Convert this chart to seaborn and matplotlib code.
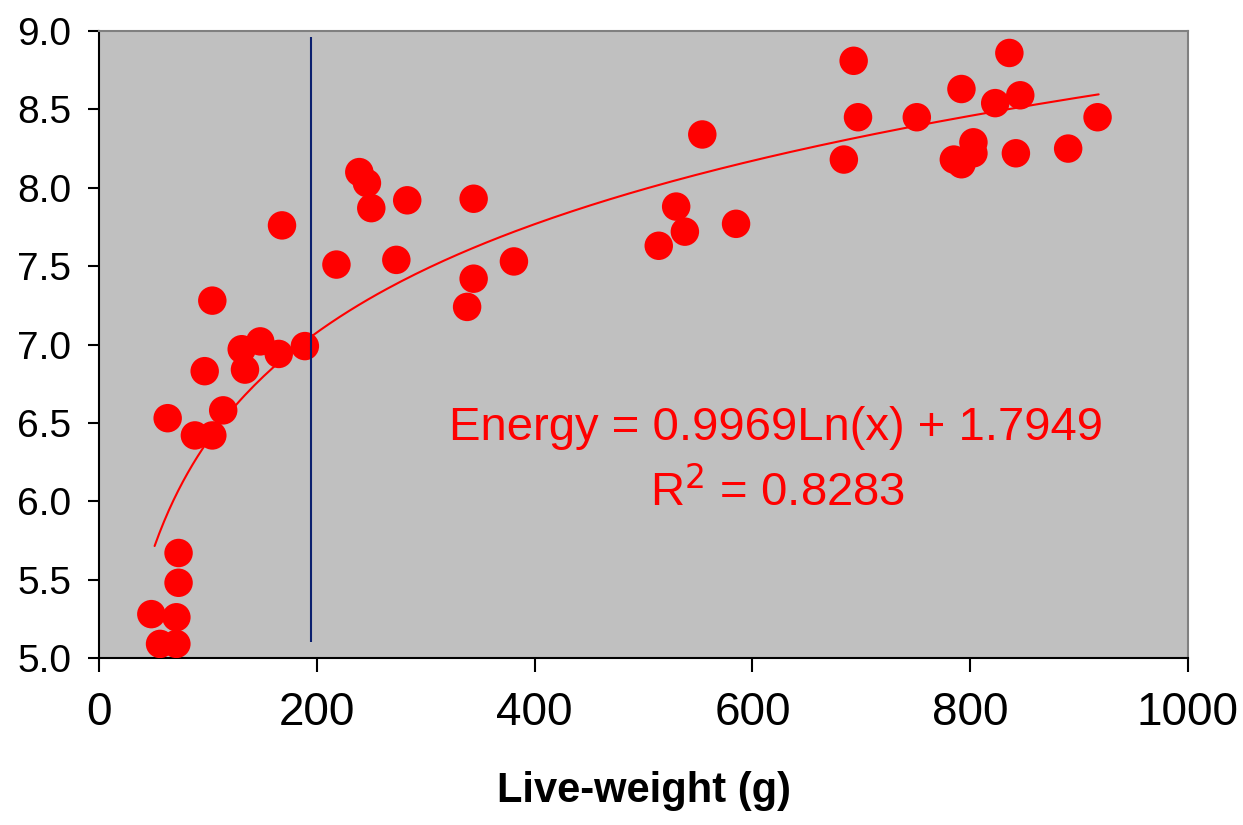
import numpy as np
import pandas as pd
import matplotlib
matplotlib.use("Agg")
import matplotlib.pyplot as plt
import seaborn as sns

# live-weight (g) and energy values
weight = [56, 71, 71, 48, 73, 73, 63, 88, 104, 114, 97, 134, 131, 148, 165,
          189, 104, 168, 218, 239, 246, 250, 273, 283, 338, 344, 344, 381,
          514, 530, 538, 554, 585, 684, 693, 697, 751, 785, 792, 792, 803,
          803, 823, 836, 842, 846, 890, 917]
energy = [5.09, 5.09, 5.26, 5.28, 5.48, 5.67, 6.53, 6.42, 6.42, 6.58, 6.83,
          6.84, 6.97, 7.02, 6.94, 6.99, 7.28, 7.76, 7.51, 8.10, 8.03, 7.87,
          7.54, 7.92, 7.24, 7.42, 7.93, 7.53, 7.63, 7.88, 7.72, 8.34, 7.77,
          8.18, 8.81, 8.45, 8.45, 8.18, 8.15, 8.63, 8.22, 8.29, 8.54, 8.86,
          8.22, 8.59, 8.25, 8.45]

# Excel log trendline as printed on the chart
slope, intercept = 0.9969, 1.7949
r2 = 0.8283
fit_x = np.linspace(51, 918, 200)
fit_y = slope * np.log(fit_x) + intercept

cutoff = 195

df = pd.DataFrame({"weight": weight, "energy": energy})

sns.set_style("ticks")
plt.rcParams["font.family"] = ["Liberation Sans", "DejaVu Sans"]

fig, ax = plt.subplots(figsize=(12.43, 8.25), dpi=100)
fig.subplots_adjust(left=0.0797, right=0.9557, top=0.9624, bottom=0.2024)
ax.set_facecolor("#c0c0c0")

sns.scatterplot(data=df, x="weight", y="energy", ax=ax, color="#ff0000",
                s=420, edgecolor="none", zorder=3)
sns.lineplot(x=fit_x, y=fit_y, ax=ax, color="#ff0000", lw=1.5, zorder=4)
ax.vlines(cutoff, 5.1, 8.96, color="#0a1f6e", lw=1.5, zorder=5)

ax.set_xlim(0, 1000)
ax.set_ylim(5.0, 9.0)
ax.set_xticks(np.arange(0, 1001, 200))
ax.set_yticks(np.arange(5.0, 9.01, 0.5))
ax.set_yticklabels([f"{v:.1f}" for v in np.arange(5.0, 9.01, 0.5)])
ax.tick_params(axis="x", labelsize=33, length=10, width=1.5, direction="out",
               pad=14, colors="black")
ax.tick_params(axis="y", labelsize=28, length=8, width=1.5, direction="out",
               pad=12, colors="black")

for side in ["left", "bottom"]:
    ax.spines[side].set_color("black")
    ax.spines[side].set_linewidth(1.5)
for side in ["top", "right"]:
    ax.spines[side].set_visible(True)
    ax.spines[side].set_color("#808080")
    ax.spines[side].set_linewidth(1.5)

ax.set_xlabel("Live-weight (g)", fontsize=30, fontweight="bold", labelpad=26,
              color="black")
ax.set_ylabel("")

ax.text(622, 6.47, f"Energy = {slope}Ln(x) + {intercept}", color="#ff0000",
        fontsize=34, ha="center", va="center")
ax.text(623, 6.06, f"R$^2$ = {r2}", color="#ff0000",
        fontsize=34, ha="center", va="center")

fig.savefig("out.png", dpi=100)
